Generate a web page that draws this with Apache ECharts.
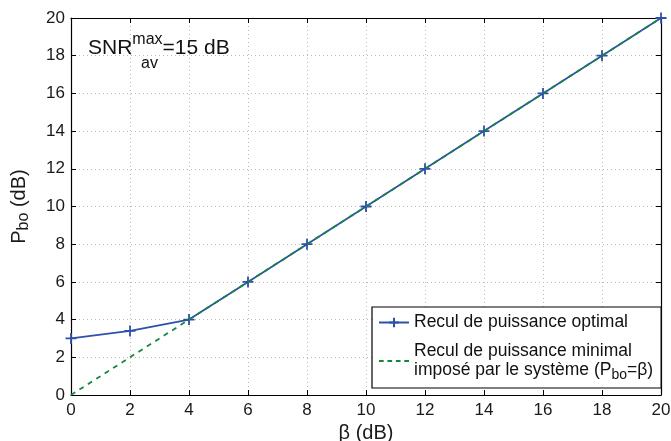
<!DOCTYPE html>
<html><head><meta charset="utf-8">
<script src="https://cdn.jsdelivr.net/npm/echarts@6/dist/echarts.min.js"></script>
<style>html,body{margin:0;padding:0;background:#fff}#c{width:671px;height:441px}</style>
</head><body><div id="c"></div>
<script>
const betaValues = [0, 2, 4, 6, 8, 10, 12, 14, 16, 18, 20];
const optimalBackoff = [3, 3.4, 4, 6, 8, 10, 12, 14, 16, 18, 20];
const minimalBackoff = [0, 2, 4, 6, 8, 10, 12, 14, 16, 18, 20];
const xTicks = [0, 2, 4, 6, 8, 10, 12, 14, 16, 18, 20];
const yTicks = [0, 2, 4, 6, 8, 10, 12, 14, 16, 18, 20];

const FONT = 'Liberation Sans';
const BLUE = '#2d50a8';
const GREEN = '#14873d';
const plus = 'path://M0,5 L10,5 M5,0 L5,10';
const dashIcon = 'path://M0,0h5v2h-5z M9,0h5v2h-5z M18,0h5v2h-5z M27,0h5v2h-5z';

const chart = echarts.init(document.getElementById('c'), null, {renderer: 'canvas'});
const axisCommon = {
  min: 0, max: 20, interval: 2,
  axisLine: {show: true, onZero: false, lineStyle: {color: '#000', width: 1.2}},
  axisTick: {show: true, inside: true, length: 5, lineStyle: {color: '#000'}},
};
chart.setOption({
  animation: false,
  grid: {left: 71, right: 10, top: 18, bottom: 46, show: false, containLabel: false, outerBoundsMode: 'none'},
  xAxis: [
    Object.assign({}, axisCommon, {
      type: 'value', position: 'bottom',
      axisLabel: {color: '#1a1a1a', fontFamily: FONT, fontSize: 17, margin: 7,
        formatter: v => xTicks.includes(v) ? String(v) : ''},
      splitLine: {show: true, lineStyle: {color: '#b8b8b8', type: [1, 3], width: 1}},
      name: 'β (dB)', nameLocation: 'middle', nameGap: 24,
      nameTextStyle: {color: '#1a1a1a', fontFamily: FONT, fontSize: 20}
    }),
    Object.assign({}, axisCommon, {
      type: 'value', position: 'top', axisLabel: {show: false}, splitLine: {show: false}
    })
  ],
  yAxis: [
    Object.assign({}, axisCommon, {
      type: 'value', position: 'left',
      axisLabel: {color: '#1a1a1a', fontFamily: FONT, fontSize: 17, margin: 6,
        formatter: v => yTicks.includes(v) ? String(v) : ''},
      splitLine: {show: true, lineStyle: {color: '#b8b8b8', type: [1, 3], width: 1}},
      name: 'P{sub|bo} (dB)', nameLocation: 'middle', nameGap: 39, nameRotate: 90,
      nameTextStyle: {color: '#1a1a1a', fontFamily: FONT, fontSize: 20,
        rich: {sub: {fontFamily: FONT, fontSize: 16, color: '#1a1a1a', padding: [10, 0, 0, 0]}}}
    }),
    Object.assign({}, axisCommon, {
      type: 'value', position: 'right', axisLabel: {show: false}, splitLine: {show: false}
    })
  ],
  legend: {
    left: 372, top: 307, width: 280,
    orient: 'vertical', itemGap: 10, itemWidth: 30, itemHeight: 12,
    padding: [6, 8, 6, 6],
    backgroundColor: '#fff', borderColor: '#000', borderWidth: 1.2,
    textStyle: {color: '#111', fontFamily: FONT, fontSize: 17.5, lineHeight: 19,
      rich: {sub: {fontFamily: FONT, fontSize: 14, color: '#111', padding: [9, 0, 0, 0]}}},
    formatter: name => name,
    data: [
      {name: 'Recul de puissance optimal'},
      {name: 'Recul de puissance minimal\nimposé par le système (P{sub|bo}=β)',
       icon: dashIcon, itemStyle: {color: GREEN, borderWidth: 0}}
    ]
  },
  series: [
    {
      name: 'Recul de puissance optimal', type: 'line',
      data: betaValues.map((b, i) => [b, optimalBackoff[i]]),
      lineStyle: {color: BLUE, width: 1.8},
      symbol: plus, symbolSize: 11,
      itemStyle: {color: BLUE, borderColor: BLUE, borderWidth: 1.8},
      z: 2
    },
    {
      name: 'Recul de puissance minimal\nimposé par le système (P{sub|bo}=β)', type: 'line',
      data: betaValues.map((b, i) => [b, minimalBackoff[i]]),
      lineStyle: {color: GREEN, width: 1.8, type: [5, 5]},
      itemStyle: {color: GREEN},
      symbol: 'none', showSymbol: false,
      z: 3
    }
  ],
  graphic: [{
    type: 'text', left: 88, top: 32, z: 10,
    style: {
      text: 'SNR{sup|max}=15 dB',
      fontFamily: FONT, fontSize: 21, fill: '#111',
      rich: {sup: {fontFamily: FONT, fontSize: 16, fill: '#111', padding: [0, 0, 16, 0]}}
    }
  }, {
    type: 'text', left: 141, top: 56, z: 10,
    style: {text: 'av', fontFamily: FONT, fontSize: 16, fill: '#111'}
  }]
});
</script></body></html>
